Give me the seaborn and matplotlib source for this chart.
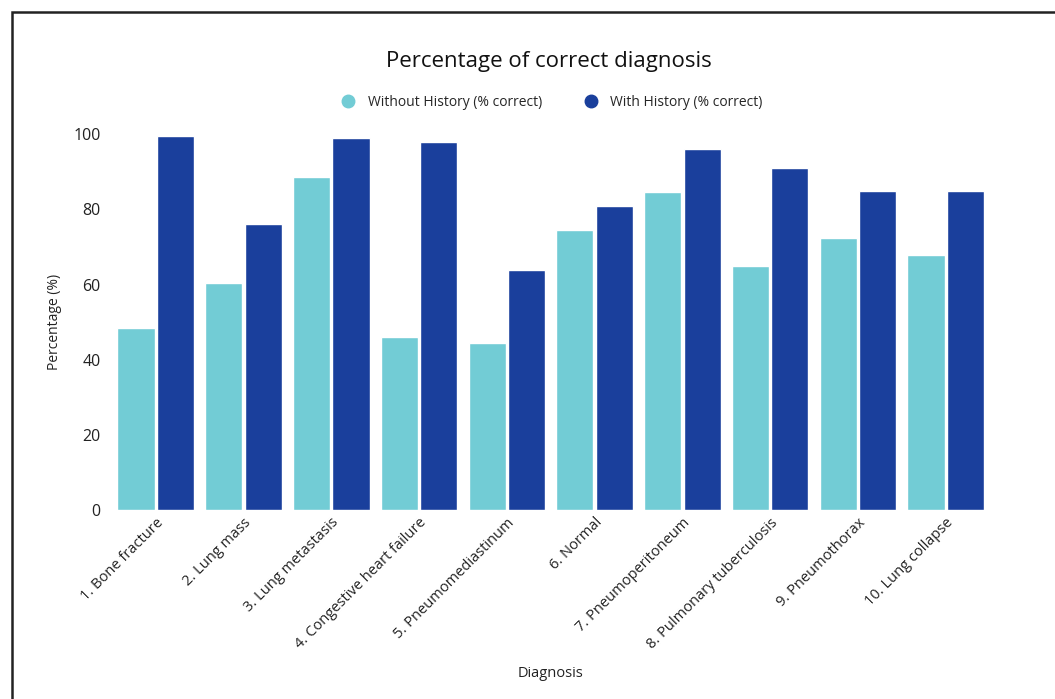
import pandas as pd
import matplotlib
matplotlib.use('Agg')
import matplotlib.pyplot as plt
from matplotlib.lines import Line2D
from matplotlib.patches import Rectangle
import seaborn as sns

################################################################################

diagnoses = [
    '1. Bone fracture', '2. Lung mass', '3. Lung metastasis',
    '4. Congestive heart failure', '5. Pneumomediastinum', '6. Normal',
    '7. Pneumoperitoneum', '8. Pulmonary tuberculosis', '9. Pneumothorax',
    '10. Lung collapse',
]
without_history = [48.5, 60.5, 88.5, 46, 44.5, 74.5, 84.5, 65, 72.5, 68]
with_history = [99.5, 76, 99, 98, 64, 81, 96, 91, 85, 85]
series_names = ['Without History (% correct)', 'With History (% correct)']
series_colors = ['#72CCD5', '#1A3F9C']

################################################################################

df = pd.DataFrame({
    'Diagnosis': diagnoses * 2,
    'Percentage': without_history + with_history,
    'Series': [series_names[0]] * len(diagnoses) + [series_names[1]] * len(diagnoses),
})

sns.set_style('white')
plt.rcParams['font.family'] = ['Open Sans', 'DejaVu Sans']

fig = plt.figure(figsize = (10.55, 6.99), dpi = 100)
ax = fig.add_axes([0.106, 0.27, 0.832, 0.538])

sns.barplot(data = df, x = 'Diagnosis', y = 'Percentage', hue = 'Series',
            palette = series_colors, saturation = 1, width = 0.9, gap = 0.06,
            legend = False, ax = ax)

ax.set_ylim(0, 100)
ax.set_xlim(-0.5, len(diagnoses) - 0.5)
ax.set_yticks([0, 20, 40, 60, 80, 100])
ax.tick_params(axis = 'both', length = 0, colors = '#222222')
ax.tick_params(axis = 'y', pad = 8, labelsize = 11.5)
ax.tick_params(axis = 'x', labelsize = 10.5)
plt.setp(ax.get_xticklabels(), rotation = 45, ha = 'right', rotation_mode = 'anchor')
for spine in ax.spines.values():
    spine.set_visible(False)

ax.set_xlabel('Diagnosis', fontsize = 10.5, labelpad = 10, color = '#222222')
ax.set_ylabel('Percentage (%)', fontsize = 10, labelpad = 8, color = '#222222')

fig.text(0.52, 0.912, 'Percentage of correct diagnosis', ha = 'center',
         va = 'center', fontsize = 16, color = '#111111')

handles = [Line2D([], [], marker = 'o', linestyle = '', markersize = 9,
                  color = c) for c in series_colors]
fig.legend(handles, series_names, loc = 'center', bbox_to_anchor = (0.52, 0.853),
           ncol = 2, frameon = False, fontsize = 10, handletextpad = 0.4,
           columnspacing = 2.5)

fig.patches.append(Rectangle((12 / 1055, -0.1), 1.2, 1 - 12 / 699 + 0.1,
                             transform = fig.transFigure, fill = False,
                             edgecolor = '#222222', linewidth = 1.8))

fig.savefig('out.png', dpi = 100)
